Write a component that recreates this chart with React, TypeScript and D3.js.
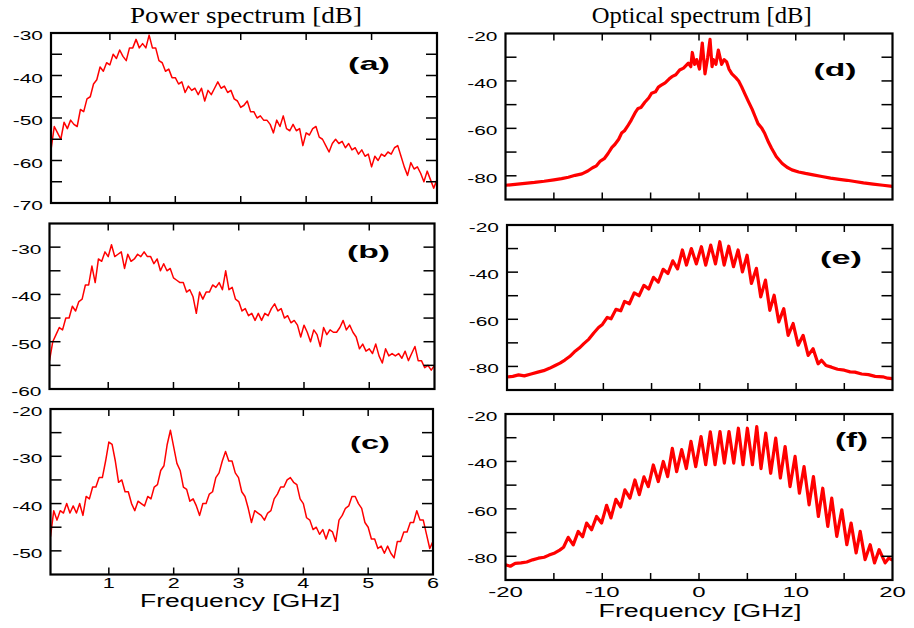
import React from 'react';
import * as d3 from 'd3';

// ---------- DATA ----------
// Power spectra (left column), sampled from 0.1 GHz to 6 GHz every 0.05 GHz
const psFreqStart = 0.1;
const psFreqStep = 0.05;

const powerA = [
  -57.5, -52, -53.5, -55, -51, -52.5, -50.5, -51.5, -52, -48,
  -48.5, -45.5, -45, -42, -41, -38, -39, -37, -37.5, -35,
  -36, -34, -35.5, -36.5, -33.5, -33.5, -31.5, -33.5, -32.5, -33.5,
  -30.5, -33.5, -33.5, -36.5, -37, -39, -38.5, -40.5, -40.5, -42,
  -41.5, -44, -42.5, -43.5, -43, -44.5, -43, -46, -43.5, -44.5,
  -43, -41.5, -43, -42.5, -44, -43.5, -45.5, -46, -47.5, -47,
  -46, -48.5, -48.5, -50, -49.5, -50.5, -50.5, -51.5, -53.5, -50.5,
  -52, -49.5, -52.5, -53, -51.5, -53, -52.5, -56.5, -53.5, -54,
  -52.5, -52, -54.5, -55, -56.5, -58, -56, -55, -56, -55.5,
  -57, -56, -57.5, -57, -58.5, -57.5, -59, -58.5, -61.5, -59,
  -60, -58.5, -59, -58, -58.5, -57, -56.5, -59, -61.5, -63.5,
  -60.5, -62, -61.5, -63, -65, -62.5, -64.5, -66.5, -64.5,
];

const powerB = [
  -54, -50, -48.5, -47, -47.5, -45, -45, -42.5, -43.5, -41.5,
  -41, -38, -38, -34, -37.5, -32.5, -33, -31, -32, -29.5,
  -32, -31.5, -31, -34.5, -31.5, -33, -32.5, -31.5, -32, -31,
  -32, -32, -33.5, -32.5, -35, -33.5, -35, -34.5, -36.5, -37,
  -37.5, -37.5, -39.5, -39, -40.5, -44, -39.5, -41, -39.5, -39.5,
  -38, -38.5, -37.5, -39, -35, -39, -38.5, -41, -41.5, -43.5,
  -43, -44.5, -44, -45.5, -44, -45.5, -44, -44.5, -43, -42,
  -43.5, -43, -45, -44.5, -46, -45.5, -46.5, -49, -46.5, -48,
  -50, -47.5, -48.5, -51, -47, -48.5, -47.5, -48, -48, -47,
  -45.5, -47.5, -46.5, -48, -49, -51.5, -50.5, -52, -51.5, -52.5,
  -50.5, -53, -54.5, -51.5, -53, -52.5, -53, -52.5, -53.5, -52,
  -54, -52.5, -51, -54, -54, -55.5, -55, -56, -55,
];

const powerC = [
  -47, -41.5, -43.5, -41.5, -42, -40, -42, -40.5, -42, -40,
  -42.5, -38.5, -39, -36.5, -36.5, -34.5, -34.5, -31, -27, -27.5,
  -31, -35.5, -35, -37.5, -37.5, -40, -41.5, -39.5, -40, -40.5,
  -38.5, -39, -36.5, -36, -33, -32, -27.5, -24.5, -28, -31.5,
  -33, -36.5, -37, -39.5, -39, -40.5, -42.5, -40, -40, -38,
  -37.5, -34.5, -33.5, -31, -29, -31, -31, -33.5, -34.5, -37.5,
  -38.5, -41, -44, -41.5, -42, -42.5, -43.5, -42, -41.5, -39,
  -38, -36.5, -36.5, -35, -34.5, -35.5, -36, -39, -40, -43,
  -43.5, -45.5, -45, -46.5, -45.5, -47.5, -45.5, -46, -48, -43.5,
  -42.5, -41, -40.5, -38.5, -38.5, -40, -41, -44, -45, -47.5,
  -47.5, -49.5, -49, -50.5, -49, -50.5, -51.5, -48, -48, -46,
  -46, -44, -44, -41.5, -43.5, -43.5, -46.5, -49.5, -48,
];

// Optical spectra (right column): [frequency GHz, dB]
const opticalD: [number, number][] = [
  [-20, -84], [-19, -83.6], [-18, -83.2], [-17, -82.8], [-16, -82.3], [-15, -81.7], [-14.2, -81.2],
  [-13.5, -80.6], [-12.8, -79.8], [-12.1, -79.2], [-11.5, -78], [-11, -76.6], [-10.6, -75.8],
  [-10.2, -73.8], [-9.8, -72.8], [-9.4, -70.6], [-9, -68], [-8.7, -66.8], [-8.3, -64.6], [-8, -62],
  [-7.7, -61], [-7.4, -59.2], [-7, -56.5], [-6.6, -53.4], [-6.3, -51.6], [-6, -51.2], [-5.6, -49],
  [-5.2, -47.2], [-4.9, -45.2], [-4.5, -44.6], [-4.2, -42.6], [-3.9, -41.8], [-3.5, -40.8],
  [-3.1, -39.2], [-2.8, -38.2], [-2.4, -37.4], [-2, -35.4], [-1.6, -34.6], [-1.1, -32.5],
  [-0.85, -34], [-0.69, -28], [-0.45, -33], [-0.24, -31], [0.05, -35], [0.34, -24], [0.62, -37],
  [0.9, -30], [1.14, -22.5], [1.35, -34], [1.48, -31], [1.75, -33], [2, -27], [2.34, -33],
  [2.6, -31], [2.86, -32], [3.1, -35], [3.4, -37], [3.8, -38.6], [4.1, -40], [4.4, -42.4],
  [4.8, -46], [5.1, -48.6], [5.5, -52], [5.8, -55], [6.1, -58], [6.5, -60], [6.8, -62.2],
  [7.2, -66], [7.5, -68.4], [8, -72], [8.6, -74.8], [9.1, -76.4], [9.6, -77.5], [10.3, -78.4],
  [11, -79], [11.8, -79.6], [12.7, -80.3], [13.6, -81], [14.5, -81.5], [15.3, -81.9], [16.1, -82.4],
  [17, -83], [18, -83.5], [19, -84], [20, -84.5],
];

const opticalE: [number, number][] = [
  [-20, -84.5], [-19.4, -84.2], [-18.8, -83.6], [-18.2, -84], [-17.5, -83.2], [-16.8, -82.4],
  [-16.2, -81.8], [-15.6, -80.8], [-15, -79.6], [-14.5, -78.6], [-14, -77.3], [-13.5, -75.8],
  [-13, -73.8], [-12.5, -72.2], [-12, -70.2], [-11.5, -68.4], [-11, -65.8], [-10.5, -63.5],
  [-10.1, -62.2], [-9.6, -59.2], [-9.2, -59.8], [-8.7, -55.8], [-8.2, -56.4], [-7.8, -52.4],
  [-7.3, -53.4], [-6.8, -48.8], [-6.3, -50], [-5.8, -45.6], [-5.3, -47.2], [-4.8, -42.2],
  [-4.3, -44.2], [-3.8, -38.8], [-3.3, -40.6], [-2.8, -35.2], [-2.3, -38.6], [-1.8, -30.6],
  [-1.38, -37], [-0.87, -30], [-0.35, -36.5], [0.17, -29.2], [0.62, -37], [1.14, -28.5],
  [1.63, -36.5], [2.08, -27.1], [2.53, -37], [3.01, -29], [3.5, -37.7], [3.98, -30.6],
  [4.43, -39.9], [4.91, -32.8], [5.36, -44.8], [5.88, -38.4], [6.33, -50.5], [6.82, -43.4],
  [7.27, -56.2], [7.72, -49.8], [8.2, -61.1], [8.72, -55.5], [9.17, -66.8], [9.69, -61.8],
  [10.21, -71], [10.73, -66.8], [11.25, -75.3], [11.76, -72.5], [12.28, -78.9], [12.63, -77.4],
  [13.1, -79.6], [13.67, -80.3], [14.3, -81.2], [15, -81.6], [15.6, -82.3], [16.1, -82.4],
  [16.8, -83.2], [17.5, -83.5], [18.2, -84.2], [19, -84.4], [19.5, -85], [20, -85.2],
];

const opticalF: [number, number][] = [
  [-20, -83.6], [-19.5, -84.2], [-19, -83], [-18.4, -82.8], [-17.8, -82.4], [-17.2, -81.5],
  [-16.6, -80.8], [-16, -80.4], [-15.5, -79.5], [-14.9, -78.6], [-14.4, -77.4], [-14, -76.2],
  [-13.52, -72], [-13, -75.2], [-12.48, -69.5], [-12.03, -71.8], [-11.62, -66], [-11.1, -68.8],
  [-10.59, -63.2], [-10.07, -66], [-9.55, -58.5], [-9.1, -63.8], [-8.59, -56], [-8.1, -59.2],
  [-7.66, -52], [-7.14, -55.5], [-6.62, -47.8], [-6.17, -54], [-5.69, -46.5], [-5.24, -50.6],
  [-4.72, -41.5], [-4.21, -48.5], [-3.69, -40], [-3.24, -46.4], [-2.76, -34.5], [-2.31, -44.3],
  [-1.79, -35], [-1.31, -43], [-0.83, -31.5], [-0.34, -42.2], [0.21, -29.5], [0.69, -41.4],
  [1.17, -27.5], [1.66, -41.4], [2.17, -27.4], [2.62, -40.7], [3.1, -27.4], [3.59, -40.7],
  [4.07, -26], [4.55, -41.4], [5.0, -26], [5.52, -41.4], [5.97, -25.3], [6.41, -43],
  [6.9, -28.1], [7.41, -45], [7.93, -30.2], [8.41, -47], [8.9, -33.7], [9.41, -50.6],
  [9.93, -37.9], [10.38, -53.4], [10.86, -42.2], [11.38, -58.3], [11.83, -46.4], [12.34, -63.2],
  [12.79, -51.3], [13.31, -67.4], [13.72, -55.5], [14.24, -71.6], [14.76, -60.4], [15.28, -75.1],
  [15.72, -66], [16.24, -78.6], [16.66, -69.5], [17.17, -81.4], [17.69, -75.1], [18.14, -82.8],
  [18.62, -77.2], [19.24, -82.8], [19.6, -80.8], [20, -81.6],
];

// Ticks
const psTicksX = [1, 2, 3, 4, 5];
const psTickLabelsX = [1, 2, 3, 4, 5, 6];
const osTicksX = [-15, -10, -5, 0, 5, 10, 15];
const osTickLabelsX = [-20, -10, 0, 10, 20];
const ticksYA = [-65, -60, -55, -50, -45, -40, -35];
const labelsYA = [-30, -40, -50, -60, -70];
const ticksYB = [-55, -50, -45, -40, -35, -30];
const labelsYB = [-30, -40, -50, -60];
const ticksYC = [-50, -45, -40, -35, -30, -25];
const labelsYC = [-20, -30, -40, -50];
const ticksYOpt = [-80, -70, -60, -50, -40, -30];
const labelsYOpt = [-20, -40, -60, -80];

const panelLabels = ['(a)', '(b)', '(c)', '(d)', '(e)', '(f)'];
const titles = ['Power spectrum [dB]', 'Optical spectrum [dB]'];
const xAxisTitle = 'Frequency [GHz]';

// ---------- LAYOUT ----------
const SANS = "'Liberation Sans', Arial, Helvetica, sans-serif";
const SERIF = "'Liberation Serif', 'Times New Roman', serif";

const toSeries = (vals: number[]): [number, number][] =>
  vals.map((v, i) => [psFreqStart + i * psFreqStep, v]);

type Box = { x0: number; x1: number; y0: number; y1: number };

interface PanelCfg {
  id: string;
  box: Box;
  xDomain: [number, number];
  yDomain: [number, number];
  xTicks: number[];
  yTicks: number[];
  yLabels: number[];
  xLabels?: number[];
  xLabelOffset?: number;
  xLabelSize?: number;
  xLabelScale?: number;
  data: [number, number][];
  sw: number;
  label: string;
  lab: { cx: number; by: number; w: number; size: number };
}

const panels: PanelCfg[] = [
  {
    id: 'a', box: { x0: 51, x1: 437, y0: 33, y1: 203 }, xDomain: [0.1, 6], yDomain: [-70, -30],
    xTicks: psTicksX, yTicks: ticksYA, yLabels: labelsYA, data: toSeries(powerA), sw: 1.5,
    label: panelLabels[0], lab: { cx: 369, by: 70, w: 42, size: 19 },
  },
  {
    id: 'b', box: { x0: 49.5, x1: 434.5, y0: 223.5, y1: 389 }, xDomain: [0.1, 6], yDomain: [-60, -25],
    xTicks: psTicksX, yTicks: ticksYB, yLabels: labelsYB, data: toSeries(powerB), sw: 1.5,
    label: panelLabels[1], lab: { cx: 368.5, by: 258, w: 43, size: 19 },
  },
  {
    id: 'c', box: { x0: 50.5, x1: 433, y0: 409, y1: 574.5 }, xDomain: [0.1, 6], yDomain: [-55, -20],
    xTicks: psTicksX, yTicks: ticksYC, yLabels: labelsYC, xLabels: psTickLabelsX, xLabelOffset: 13,
    xLabelSize: 14, xLabelScale: 1.54, data: toSeries(powerC), sw: 1.5,
    label: panelLabels[2], lab: { cx: 370, by: 449, w: 40, size: 19 },
  },
  {
    id: 'd', box: { x0: 505.5, x1: 892.5, y0: 33.5, y1: 199.5 }, xDomain: [-20, 20], yDomain: [-90, -20],
    xTicks: osTicksX, yTicks: ticksYOpt, yLabels: labelsYOpt, data: opticalD, sw: 3.2,
    label: panelLabels[3], lab: { cx: 835, by: 76, w: 43, size: 19 },
  },
  {
    id: 'e', box: { x0: 507, x1: 892.5, y0: 225, y1: 390 }, xDomain: [-20, 20], yDomain: [-90, -20],
    xTicks: osTicksX, yTicks: ticksYOpt, yLabels: labelsYOpt, data: opticalE, sw: 3.2,
    label: panelLabels[4], lab: { cx: 841, by: 264, w: 42, size: 19 },
  },
  {
    id: 'f', box: { x0: 505.5, x1: 892.5, y0: 414, y1: 580 }, xDomain: [-20, 20], yDomain: [-90, -20],
    xTicks: osTicksX, yTicks: ticksYOpt, yLabels: labelsYOpt, xLabels: osTickLabelsX, xLabelOffset: 17,
    xLabelSize: 15, xLabelScale: 1.6, data: opticalF, sw: 3.2,
    label: panelLabels[5], lab: { cx: 851.5, by: 447, w: 33, size: 20 },
  },
];

function Panel({ p }: { p: PanelCfg }) {
  const { box } = p;
  const x = d3.scaleLinear().domain(p.xDomain).range([box.x0, box.x1]);
  const y = d3.scaleLinear().domain(p.yDomain).range([box.y1, box.y0]);
  const line = d3.line<[number, number]>().x((d) => x(d[0])).y((d) => y(d[1]));
  const clipId = `clip-${p.id}`;
  const yTL = 11;
  const xTL = 7;
  return (
    <g>
      <defs>
        <clipPath id={clipId}>
          <rect x={box.x0} y={box.y0} width={box.x1 - box.x0} height={box.y1 - box.y0} />
        </clipPath>
      </defs>
      <path
        d={line(p.data) || ''}
        fill="none"
        stroke="#ff0000"
        strokeWidth={p.sw}
        strokeLinejoin="round"
        clipPath={`url(#${clipId})`}
      />
      {p.yTicks.map((v) => (
        <g key={`yt${v}`} stroke="#000" strokeWidth={1.5}>
          <line x1={box.x0} x2={box.x0 + yTL} y1={y(v)} y2={y(v)} />
          <line x1={box.x1 - yTL} x2={box.x1} y1={y(v)} y2={y(v)} />
        </g>
      ))}
      {p.xTicks.map((v) => (
        <g key={`xt${v}`} stroke="#000" strokeWidth={1.5}>
          <line x1={x(v)} x2={x(v)} y1={box.y1} y2={box.y1 - xTL} />
          <line x1={x(v)} x2={x(v)} y1={box.y0} y2={box.y0 + xTL} />
        </g>
      ))}
      <rect
        x={box.x0}
        y={box.y0}
        width={box.x1 - box.x0}
        height={box.y1 - box.y0}
        fill="none"
        stroke="#000"
        strokeWidth={2.2}
      />
      {p.yLabels.map((v) => (
        <g key={`yl${v}`} transform={`translate(${box.x0 - 8},${y(v) + 7}) scale(1.55,1)`}>
          <text textAnchor="end" fontSize={13.5} fontFamily={SANS} fill="#000">
            {String(v)}
          </text>
        </g>
      ))}
      {p.xLabels &&
        p.xLabels.map((v) => (
          <g
            key={`xl${v}`}
            transform={`translate(${x(v)},${box.y1 + (p.xLabelOffset || 14)}) scale(${p.xLabelScale || 1.55},1)`}
          >
            <text textAnchor="middle" fontSize={p.xLabelSize || 14} fontFamily={SANS} fill="#000">
              {String(v)}
            </text>
          </g>
        ))}
      <text
        x={p.lab.cx}
        y={p.lab.by}
        textAnchor="middle"
        fontSize={p.lab.size}
        fontFamily={SANS}
        fontWeight="bold"
        textLength={p.lab.w}
        lengthAdjust="spacingAndGlyphs"
        fill="#000"
      >
        {p.label}
      </text>
    </g>
  );
}

export default function App() {
  return (
    <svg
      width={914}
      height={628}
      viewBox="0 0 914 628"
      style={{ position: 'absolute', left: 0, top: 0, background: '#fff' }}
    >
      <rect x={0} y={0} width={914} height={628} fill="#fff" />
      <text
        x={246}
        y={23}
        textAnchor="middle"
        fontSize={23}
        fontFamily={SERIF}
        textLength={232}
        lengthAdjust="spacingAndGlyphs"
        fill="#000"
      >
        {titles[0]}
      </text>
      <text
        x={701.7}
        y={23}
        textAnchor="middle"
        fontSize={23}
        fontFamily={SERIF}
        textLength={220}
        lengthAdjust="spacingAndGlyphs"
        fill="#000"
      >
        {titles[1]}
      </text>
      {panels.map((p) => (
        <Panel key={p.id} p={p} />
      ))}
      <text
        x={240}
        y={607}
        textAnchor="middle"
        fontSize={17.5}
        fontFamily={SANS}
        textLength={200}
        lengthAdjust="spacingAndGlyphs"
        fill="#000"
      >
        {xAxisTitle}
      </text>
      <text
        x={700}
        y={617}
        textAnchor="middle"
        fontSize={17.5}
        fontFamily={SANS}
        textLength={203}
        lengthAdjust="spacingAndGlyphs"
        fill="#000"
      >
        {xAxisTitle}
      </text>
    </svg>
  );
}
